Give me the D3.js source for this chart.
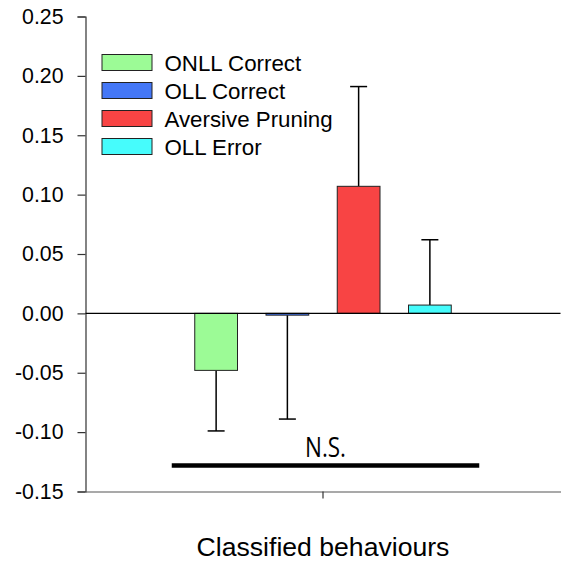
<!DOCTYPE html>
<html>
<head>
<meta charset="utf-8">
<script src="https://cdn.jsdelivr.net/npm/d3@7"></script>
<style>
  html, body { margin: 0; padding: 0; background: #fff; }
  svg { display: block; }
</style>
</head>
<body>
<svg id="chart" width="566" height="567"></svg>
<script>
// Group and behaviour categories
const groups = ["Classified behaviours"];
const behaviours = ["ONLL Correct", "OLL Correct", "Aversive Pruning", "OLL Error"];
// Mean difference per behaviour and its standard error
const means = [-0.048, -0.0015, 0.107, 0.007];
const errors = [0.051, 0.0875, 0.084, 0.055];
const colours = ["#9cfb96", "#4477f6", "#f84444", "#46fcfc"];
// Y axis ticks
const yTicks = [-0.15, -0.10, -0.05, 0.00, 0.05, 0.10, 0.15, 0.20, 0.25];
// Significance bar across all behaviours
const sigLabel = ["N.S."];
const sigLevel = [-0.128];

const svg = d3.select("#chart");
const margin = { left: 85.5, right: 5.5, top: 16.5, bottom: 75.5 };
const W = 566, H = 567;

const y = d3.scaleLinear().domain([-0.15, 0.25]).range([H - margin.bottom, margin.top]);
const x0 = d3.scaleBand().domain(groups).range([margin.left, W - margin.right])
  .paddingInner(0.25).paddingOuter(0.25);
const x1 = d3.scaleBand().domain(behaviours).range([0, x0.bandwidth()])
  .paddingInner(0.4).paddingOuter(0.2);

const font = "Arial, 'Liberation Sans', sans-serif";

// Y axis
const yAxis = svg.append("g")
  .attr("transform", `translate(${margin.left},0)`)
  .call(d3.axisLeft(y).tickValues(yTicks).tickFormat(d3.format(".2f")).tickSize(8).tickPadding(14));
yAxis.select(".domain").attr("stroke", "#333").attr("stroke-width", 1.2);
yAxis.selectAll(".tick line").attr("stroke", "#333").attr("stroke-width", 1.2);
yAxis.selectAll(".tick text")
  .attr("font-family", font).attr("font-size", 21.3).attr("fill", "#000")
  .text(d => d3.format(".2f")(d).replace("−", "-"));

// X axis
const xAxis = svg.append("g")
  .attr("transform", `translate(0,${y(-0.15)})`)
  .call(d3.axisBottom(x0).tickSize(7).tickSizeOuter(0).tickFormat(""));
xAxis.select(".domain").attr("stroke", "#555").attr("stroke-width", 1.2);
xAxis.selectAll(".tick line").attr("stroke", "#333").attr("stroke-width", 1.2);

svg.append("text")
  .attr("x", x0(groups[0]) + x0.bandwidth() / 2)
  .attr("y", 556)
  .attr("text-anchor", "middle")
  .attr("font-family", font).attr("font-size", 26.6).attr("fill", "#000")
  .text(groups[0]);

const data = behaviours.map((b, i) => ({ name: b, mean: means[i], err: errors[i], colour: colours[i] }));
const g = svg.append("g").attr("transform", `translate(${x0(groups[0])},0)`);

// Error bars (one-sided, away from zero)
const eb = g.selectAll(".err").data(data).join("g").attr("class", "err");
eb.append("line")
  .attr("x1", d => x1(d.name) + x1.bandwidth() / 2)
  .attr("x2", d => x1(d.name) + x1.bandwidth() / 2)
  .attr("y1", d => y(d.mean))
  .attr("y2", d => y(d.mean + Math.sign(d.mean) * d.err))
  .attr("stroke", "#000").attr("stroke-width", 1.5);
eb.append("line")
  .attr("x1", d => x1(d.name) + x1.bandwidth() / 2 - 8.5)
  .attr("x2", d => x1(d.name) + x1.bandwidth() / 2 + 8.5)
  .attr("y1", d => y(d.mean + Math.sign(d.mean) * d.err))
  .attr("y2", d => y(d.mean + Math.sign(d.mean) * d.err))
  .attr("stroke", "#000").attr("stroke-width", 1.5);

// Bars
g.selectAll("rect.bar").data(data).join("rect")
  .attr("class", "bar")
  .attr("x", d => x1(d.name))
  .attr("width", x1.bandwidth())
  .attr("y", d => y(Math.max(0, d.mean)))
  .attr("height", d => Math.abs(y(d.mean) - y(0)))
  .attr("fill", d => d.colour)
  .attr("stroke", "#222").attr("stroke-width", 1);

// Zero reference line
svg.append("line")
  .attr("x1", margin.left).attr("x2", W - margin.right)
  .attr("y1", y(0)).attr("y2", y(0))
  .attr("stroke", "#000").attr("stroke-width", 1.2);

// Significance bar and label
const sigX1 = x0(groups[0]) + x1(behaviours[0]) - 23;
const sigX2 = x0(groups[0]) + x1(behaviours[3]) + x1.bandwidth() + 28;
svg.append("line")
  .attr("x1", sigX1).attr("x2", sigX2)
  .attr("y1", y(sigLevel[0])).attr("y2", y(sigLevel[0]))
  .attr("stroke", "#000").attr("stroke-width", 4.5);
svg.append("text")
  .attr("x", (sigX1 + sigX2) / 2)
  .attr("y", y(sigLevel[0]) - 8.5)
  .attr("text-anchor", "middle")
  .attr("font-family", "'Open Sans', 'Noto Sans', sans-serif")
  .attr("font-size", 26.5)
  .attr("textLength", 41).attr("lengthAdjust", "spacingAndGlyphs")
  .attr("fill", "#000")
  .text(sigLabel[0]);

// Legend
const legend = svg.append("g").attr("transform", "translate(102,54.5)");
const item = legend.selectAll("g").data(data).join("g")
  .attr("transform", (d, i) => `translate(0,${i * 28})`);
item.append("rect")
  .attr("width", 50).attr("height", 16)
  .attr("fill", d => d.colour)
  .attr("stroke", "#222").attr("stroke-width", 1);
item.append("text")
  .attr("x", 62.5).attr("y", 16.5)
  .attr("font-family", font).attr("font-size", 22.3).attr("fill", "#000")
  .text(d => d.name);
</script>
</body>
</html>
